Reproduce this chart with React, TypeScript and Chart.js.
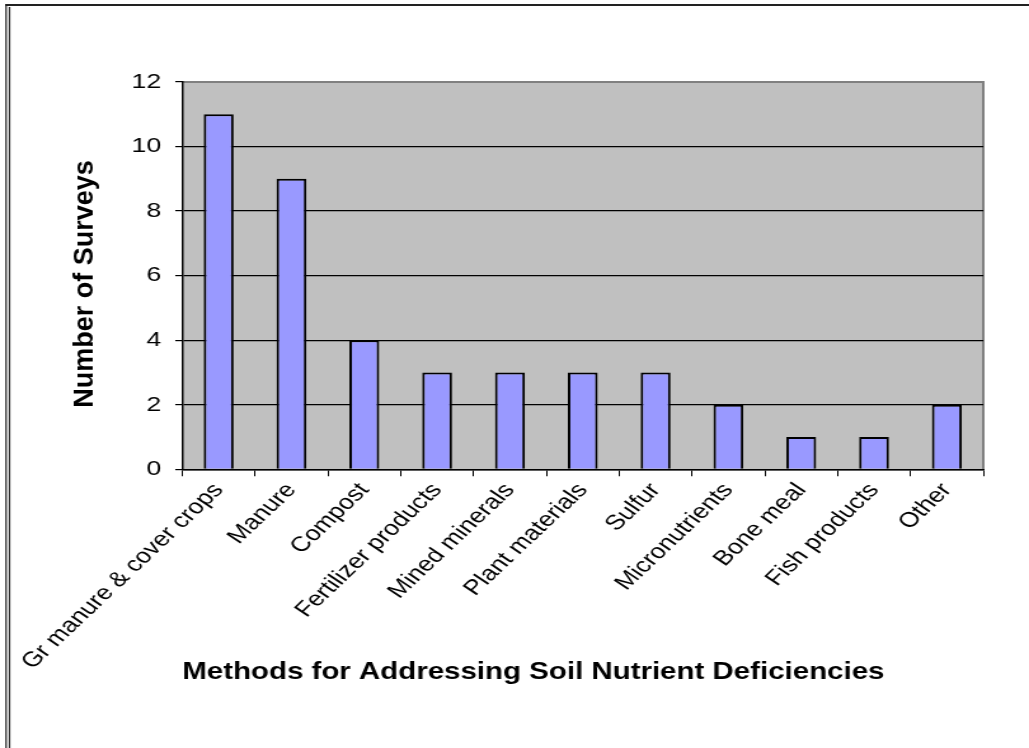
import React, { useEffect, useRef } from "react";
import { Chart, registerables } from "chart.js";

Chart.register(...registerables);

const categories = [
  "Gr manure & cover crops",
  "Manure",
  "Compost",
  "Fertilizer products",
  "Mined minerals",
  "Plant materials",
  "Sulfur",
  "Micronutrients",
  "Bone meal",
  "Fish products",
  "Other",
];
const surveyCounts = [11, 9, 4, 3, 3, 3, 3, 2, 1, 1, 2];
const yMin = 0;
const yMax = 12;
const yStep = 2;
const xTitle = "Methods for Addressing Soil Nutrient Deficiencies";
const yTitle = "Number of Surveys";

const FONT = "Arial, 'Liberation Sans', sans-serif";
const STRETCH = 1.27;
const OUT_W = 1029;
const OUT_H = 748;
const IN_W = Math.round(OUT_W / STRETCH);

const plotBackground = {
  id: "plotBackground",
  beforeDraw(chart: any) {
    const { ctx, chartArea } = chart;
    if (!chartArea) return;
    ctx.save();
    ctx.fillStyle = "#C0C0C0";
    ctx.fillRect(chartArea.left, chartArea.top, chartArea.right - chartArea.left, chartArea.bottom - chartArea.top);
    ctx.strokeStyle = "#808080";
    ctx.lineWidth = 2;
    ctx.beginPath();
    ctx.moveTo(chartArea.left, chartArea.top);
    ctx.lineTo(chartArea.right, chartArea.top);
    ctx.lineTo(chartArea.right, chartArea.bottom);
    ctx.stroke();
    ctx.restore();
  },
  afterDraw(chart: any) {
    const { ctx, width, height } = chart;
    ctx.save();
    ctx.strokeStyle = "#222";
    ctx.lineWidth = 2;
    ctx.beginPath();
    ctx.moveTo(4, 5);
    ctx.lineTo(width, 5);
    ctx.stroke();
    ctx.lineWidth = 1.2;
    ctx.beginPath();
    ctx.moveTo(4.8, 5);
    ctx.lineTo(4.8, height);
    ctx.moveTo(7.5, 7);
    ctx.lineTo(7.5, height);
    ctx.stroke();
    ctx.restore();

    // y-axis title drawn with its own proportions
    ctx.save();
    ctx.translate(85 / STRETCH, 284);
    ctx.rotate(-Math.PI / 2);
    ctx.scale(1, 1 / STRETCH);
    ctx.font = `bold 27px ${FONT}`;
    ctx.fillStyle = "#000";
    ctx.textAlign = "center";
    ctx.textBaseline = "middle";
    ctx.fillText(yTitle, 0, 0);
    ctx.restore();
  },
};

export default function App() {
  const canvasRef = useRef<HTMLCanvasElement | null>(null);

  useEffect(() => {
    if (!canvasRef.current) return;
    Chart.defaults.font.family = FONT;
    const chart = new Chart(canvasRef.current, {
      type: "bar",
      data: {
        labels: categories,
        datasets: [
          {
            data: surveyCounts,
            backgroundColor: "#9999FF",
            borderColor: "#000000",
            borderWidth: 2,
            barPercentage: 0.41,
            categoryPercentage: 1,
          },
        ],
      },
      options: {
        animation: false,
        responsive: false,
        events: [],
        layout: { padding: { left: 45, top: 82, right: 36, bottom: 61 } },
        plugins: {
          legend: { display: false },
          tooltip: { enabled: false },
        },
        scales: {
          x: {
            offset: true,
            grid: {
              display: true,
              drawOnChartArea: false,
              drawTicks: true,
              tickLength: 7,
              tickColor: "#000",
              offset: true,
            },
            border: { display: true, color: "#000", width: 1.5 },
            ticks: {
              color: "#000",
              font: { size: 21, family: FONT },
              minRotation: 50,
              maxRotation: 50,
              autoSkip: false,
              padding: 2,
            },
            title: {
              display: true,
              text: xTitle,
              align: "start",
              color: "#000",
              font: { size: 23.2, weight: "bold", family: FONT },
              padding: { top: -17, bottom: 0 },
            },
          },
          y: {
            min: yMin,
            max: yMax,
            grid: {
              color: (c: any) => (c.tick && c.tick.value === yMax ? "#808080" : "#000"),
              lineWidth: 1.2,
              tickLength: 5.5,
              tickColor: "#000",
            },
            border: { display: true, color: "#000", width: 1.5 },
            ticks: {
              stepSize: yStep,
              color: "#000",
              font: { size: 21, family: FONT },
              padding: 11,
            },
            title: {
              display: true,
              text: yTitle,
              color: "rgba(0,0,0,0)",
              font: { size: 23, weight: "bold", family: FONT },
              padding: { top: 0, bottom: 20 },
            },
          },
        },
      },
      plugins: [plotBackground],
    } as any);
    return () => chart.destroy();
  }, []);

  return (
    <div
      style={{
        position: "fixed",
        left: 0,
        top: 0,
        width: OUT_W,
        height: OUT_H,
        background: "#fff",
        overflow: "hidden",
      }}
    >
      <canvas
        ref={canvasRef}
        width={IN_W}
        height={OUT_H}
        style={{
          display: "block",
          transform: `scaleX(${OUT_W / IN_W})`,
          transformOrigin: "0 0",
        }}
      />
    </div>
  );
}
